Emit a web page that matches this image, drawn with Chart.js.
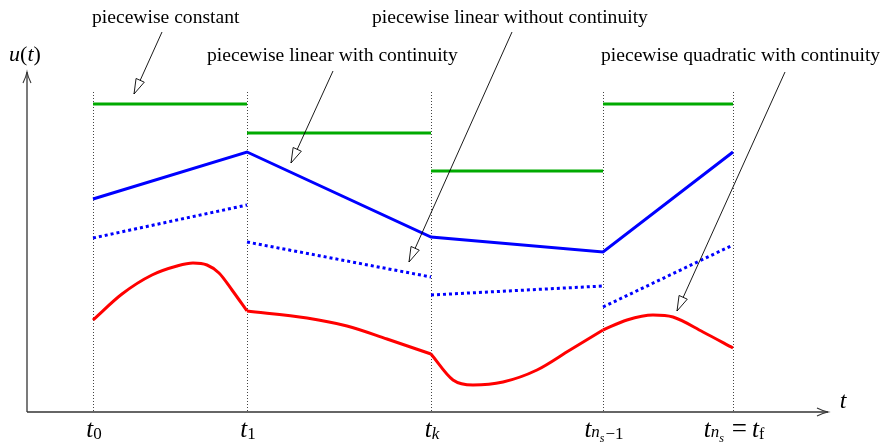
<!DOCTYPE html>
<html><head><meta charset="utf-8">
<script src="https://cdn.jsdelivr.net/npm/chart.js@4/dist/chart.umd.min.js"></script>
<style>html,body{margin:0;padding:0;background:#fff}#wrap{width:885px;height:443px}</style>
</head><body><div id="wrap"><canvas id="c" width="885" height="443"></canvas></div>
<script>
// ---- data (abstract units: t along the horizon, u control value) ----
const knots = [66, 220, 404, 576, 706];                 // t0, t1, tk, t_{ns-1}, t_{ns}
const knotTop = 320;                                     // height of dotted knot markers
const constVals = [308, 279, 241, 308];                  // piecewise constant
const linContVals = [213, 260, 175, 160, 260];           // piecewise linear with continuity
const linDiscStart = [174, 170, 117, 105];               // piecewise linear without continuity
const linDiscEnd = [207, 135, 126, 167];
const quadSeg1 = [[66,92],[95,118],[125,137],[150,146],[166,149],[180,147],[192,139],[205,122],[220,101]];
const quadSeg2 = [[220,101],[280,94],[320,86],[360,73],[404,58]];
const quadSeg3 = [[404,58],[426,32],[446,27],[476,30],[510,42],[543,62],[576,82]];
const quadSeg4 = [[576,82],[600,92],[626,97],[646,95],[676,80],[706,64]];
const annotTexts = ["piecewise constant", "piecewise linear with continuity", "piecewise linear without continuity", "piecewise quadratic with continuity"];
const annotTextPos = [[65, 394], [180, 356], [345, 394], [574, 356]];   // left, middle (t,u)
const annotArrows = [[135,380,107,318],[306,341,264,249],[485,380,382,150],[758,340,650,101]];
const xMin = 0, xMax = 801, yMin = 0, yMax = 340;

const GREEN = '#00aa00', BLUE = '#0000ff', RED = '#ff0000';

const datasets = [];
for (let i = 0; i < constVals.length; i++) {
  datasets.push({data: [{x: knots[i], y: constVals[i]}, {x: knots[i+1], y: constVals[i]}],
    borderColor: GREEN, borderWidth: 3, pointRadius: 0, clip: false});
}
datasets.push({data: knots.map((k, i) => ({x: k, y: linContVals[i]})),
  borderColor: BLUE, borderWidth: 3, pointRadius: 0, clip: false});
for (let i = 0; i < linDiscStart.length; i++) {
  datasets.push({data: [{x: knots[i], y: linDiscStart[i]}, {x: knots[i+1], y: linDiscEnd[i]}],
    borderColor: BLUE, borderWidth: 3, borderDash: [3, 3], pointRadius: 0, clip: false});
}
[quadSeg1, quadSeg2, quadSeg3, quadSeg4].forEach(seg => {
  datasets.push({data: seg.map(p => ({x: p[0], y: p[1]})), borderColor: RED, borderWidth: 3,
    cubicInterpolationMode: 'monotone', pointRadius: 0, clip: false});
});

function drawRuns(ctx, runs, cx, baseY) {
  let w = 0;
  runs.forEach(r => { ctx.font = (r.it ? 'italic ' : '') + r.size + 'px "Liberation Serif"'; r.w = ctx.measureText(r.t).width + (r.gap || 0) + (r.pre || 0); w += r.w; });
  let x = cx - w / 2;
  ctx.textBaseline = 'alphabetic'; ctx.textAlign = 'left'; ctx.fillStyle = '#000';
  runs.forEach(r => { ctx.font = (r.it ? 'italic ' : '') + r.size + 'px "Liberation Serif"'; ctx.fillText(r.t, x + (r.pre || 0), baseY + (r.dy || 0)); x += r.w; });
}

const tickRuns = [
  [{t:'t',it:1,size:25},{t:'0',size:17,dy:2}],
  [{t:'t',it:1,size:25},{t:'1',size:17,dy:2}],
  [{t:'t',it:1,size:25},{t:'k',it:1,size:17,dy:2}],
  [{t:'t',it:1,size:25},{t:'n',it:1,size:17,dy:0},{t:'s',it:1,size:12,dy:5,gap:1},{t:'\u22121',size:17,dy:2}],
  [{t:'t',it:1,size:25},{t:'n',it:1,size:17,dy:0},{t:'s',it:1,size:12,dy:5,gap:8},{t:'=',size:27,gap:5},{t:'t',it:1,size:25},{t:'f',size:16,dy:2}]
];
const tickShift = [0, 0, 0, 0, 0];

function openHead(ctx, x1, y1, x2, y2) {
  const a = Math.atan2(y2 - y1, x2 - x1), L = 15, H = 4.5;
  const bx = x2 - L * Math.cos(a), by = y2 - L * Math.sin(a);
  ctx.beginPath();
  ctx.moveTo(x2, y2);
  ctx.lineTo(bx + H * Math.sin(a), by - H * Math.cos(a));
  ctx.lineTo(bx - H * Math.sin(a), by + H * Math.cos(a));
  ctx.closePath();
  ctx.fillStyle = '#fff'; ctx.fill(); ctx.stroke();
}

const decor = {
  id: 'decor',
  beforeDatasetsDraw(chart) {
    const ctx = chart.ctx, xs = chart.scales.x, ys = chart.scales.y;
    ctx.save();
    ctx.strokeStyle = '#444'; ctx.lineWidth = 1; ctx.setLineDash([1, 2]);
    knots.forEach(k => {
      const px = Math.round(xs.getPixelForValue(k)) + 0.5;
      ctx.beginPath(); ctx.moveTo(px, ys.getPixelForValue(knotTop)); ctx.lineTo(px, ys.getPixelForValue(0)); ctx.stroke();
    });
    ctx.setLineDash([]);
    const ox = xs.getPixelForValue(xMin), oy = ys.getPixelForValue(yMin);
    const ex = xs.getPixelForValue(xMax), ty = ys.getPixelForValue(yMax);
    ctx.strokeStyle = '#333'; ctx.lineWidth = 1.3;
    ctx.beginPath(); ctx.moveTo(ox, oy); ctx.lineTo(ex, oy); ctx.stroke();
    ctx.beginPath(); ctx.moveTo(ox, oy); ctx.lineTo(ox, ty); ctx.stroke();
    ctx.lineWidth = 1.1;
    ctx.beginPath(); ctx.moveTo(ex - 11, oy - 4); ctx.quadraticCurveTo(ex - 5, oy - 1, ex, oy); ctx.quadraticCurveTo(ex - 5, oy + 1, ex - 11, oy + 4); ctx.stroke();
    ctx.beginPath(); ctx.moveTo(ox - 4, ty + 11); ctx.quadraticCurveTo(ox - 1, ty + 5, ox, ty); ctx.quadraticCurveTo(ox + 1, ty + 5, ox + 4, ty + 11); ctx.stroke();
    ctx.restore();
  },
  afterDatasetsDraw(chart) {
    const ctx = chart.ctx, xs = chart.scales.x, ys = chart.scales.y;
    ctx.save();
    ctx.strokeStyle = '#000'; ctx.lineWidth = 0.9;
    annotArrows.forEach(a => {
      const x1 = xs.getPixelForValue(a[0]), y1 = ys.getPixelForValue(a[1]);
      const x2 = xs.getPixelForValue(a[2]), y2 = ys.getPixelForValue(a[3]);
      ctx.beginPath(); ctx.moveTo(x1, y1); ctx.lineTo(x2, y2); ctx.stroke();
      openHead(ctx, x1, y1, x2, y2);
    });
    ctx.fillStyle = '#000'; ctx.font = '19.6px "Liberation Serif"'; ctx.textBaseline = 'middle'; ctx.textAlign = 'left';
    annotTexts.forEach((t, i) => ctx.fillText(t, xs.getPixelForValue(annotTextPos[i][0]), ys.getPixelForValue(annotTextPos[i][1])));
    const baseY = ys.getPixelForValue(0) + 25;
    knots.forEach((k, i) => drawRuns(ctx, tickRuns[i], xs.getPixelForValue(k) + 1 + tickShift[i], baseY));
    drawRuns(ctx, [{t:'u',it:1,size:22},{t:'(',size:22},{t:'t',it:1,size:22},{t:')',size:22}], 25, 61);
    drawRuns(ctx, [{t:'t',it:1,size:24}], xs.getPixelForValue(xMax) + 15, ys.getPixelForValue(0) - 4);
    ctx.restore();
  }
};

new Chart(document.getElementById('c'), {
  type: 'line',
  data: {datasets},
  options: {
    responsive: false, animation: false, devicePixelRatio: 1,
    layout: {padding: {left: 27, right: 57, top: 72, bottom: 31}},
    plugins: {legend: {display: false}, tooltip: {enabled: false}},
    scales: {
      x: {type: 'linear', min: xMin, max: xMax, display: false},
      y: {type: 'linear', min: yMin, max: yMax, display: false}
    },
    elements: {line: {borderCapStyle: 'butt', borderJoinStyle: 'miter'}}
  },
  plugins: [decor]
});
</script></body></html>
